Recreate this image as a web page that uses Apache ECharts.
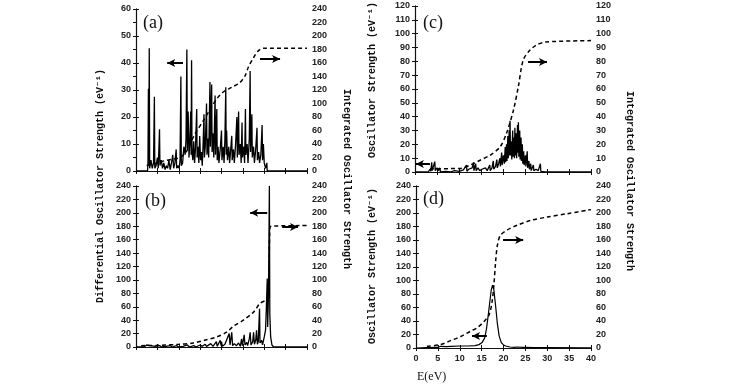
<!DOCTYPE html>
<html><head><meta charset="utf-8">
<script src="https://cdn.jsdelivr.net/npm/echarts@6/dist/echarts.min.js"></script>
<style>html,body{margin:0;padding:0;background:#fff}#c{width:733px;height:388px}</style>
</head><body><div id="c"></div>
<script>
// ---------- data (E in eV, value) ----------
const specA = [[0,0],[2.7,0],[2.8,3],[2.9,30.5],[3.0,2],[3.1,45.5],[3.2,1],[3.5,4],[3.8,1],[4.1,3],[4.3,27.5],[4.4,1],[4.7,2],[5.0,5],[5.2,1],[5.5,15.5],[5.6,2],[5.9,4],[6.2,1],[6.5,3],[6.8,0.5],[7.1,2],[7.4,1],[7.7,4],[8.0,0.5],[8.3,3],[8.6,6],[8.8,1],[9.1,3],[9.4,8],[9.5,1],[9.8,2],[10.1,1],[10.3,4],[10.5,35],[10.6,2],[10.9,3],[11.2,9],[11.5,6],[11.7,12],[11.9,45],[12.0,8],[12.2,22],[12.4,5],[12.6,11],[12.8,22],[12.9,6],[13.0,41],[13.1,7],[13.3,4],[13.5,11],[13.7,3],[13.9,8],[14.2,23],[14.3,5],[14.5,9],[14.7,3],[14.9,13],[15.1,4],[15.3,7],[15.5,2],[15.7,10],[15.9,21],[16.0,5],[16.2,9],[16.5,25],[16.6,6],[16.8,12],[17.0,5],[17.3,33],[17.4,9],[17.7,32],[17.8,7],[18.0,14],[18.2,5],[18.5,28],[18.6,6],[18.9,23],[19.0,4],[19.2,9],[19.4,3],[19.7,8],[20.0,15],[20.1,4],[20.4,9],[20.6,3],[20.8,12],[21.0,31],[21.1,6],[21.2,15],[21.4,4],[21.7,9],[21.9,3],[22.1,7],[22.4,13],[22.5,4],[22.8,8],[23.0,3],[23.3,10],[23.6,20],[23.7,5],[24.0,22],[24.1,6],[24.4,10],[24.6,3],[24.8,18],[24.9,5],[25.2,9],[25.4,3],[25.6,23],[25.7,6],[26.0,10],[26.2,3],[26.5,12],[26.7,37],[26.8,7],[27.1,21],[27.2,5],[27.5,9],[27.7,3],[28.0,8],[28.3,16],[28.4,4],[28.7,7],[28.9,3],[29.2,6],[29.5,17],[29.6,4],[29.8,10],[30.0,3],[30.3,1],[30.6,3],[30.7,0],[40,0]];
const intA = [[2.5,8],[5,12],[7.2,16],[9,18],[10.3,20],[11.7,28],[12.8,42],[13.8,55],[15.8,75],[17.7,95],[18.9,107],[20.4,117],[22.4,124],[24.3,131],[25.5,141],[26.3,154],[27.5,168],[28.6,178],[29.8,182],[40,182]];

const specB = [[0,0],[1.5,0],[1.8,2],[2.0,0.5],[2.5,3],[2.8,0.5],[3.3,2],[3.6,0],[4.5,1],[5.5,2],[6.0,0],[7.0,1],[8.0,2],[8.5,0],[9.5,2],[10.0,0],[11.0,1],[12.0,3],[12.5,0],[13.5,2],[14.0,0],[15.0,3],[15.5,1],[16.2,4],[16.5,1],[17.5,5],[18.0,1],[18.8,8],[19.0,1],[19.7,10],[19.9,2],[20.0,8],[20.2,1],[20.8,4],[21.2,2],[21.8,20],[22.0,3],[22.4,22],[22.6,2],[23.0,5],[23.5,2],[24.0,6],[24.4,1],[24.7,12],[24.9,2],[25.3,18],[25.5,3],[25.9,7],[26.1,2],[26.5,12],[26.7,22],[26.9,3],[27.3,8],[27.5,22],[27.7,4],[28.0,10],[28.2,25],[28.4,4],[28.6,8],[28.9,57],[29.0,6],[29.4,10],[29.6,3],[30.0,15],[30.3,25],[30.5,60],[30.7,102],[30.8,30],[31.0,80],[31.2,240],[31.3,50],[31.5,15],[31.8,3],[32.2,0],[40,0]];
const intB = [[1.2,2],[5,2.5],[10,4],[13.4,6],[16,10],[18.9,15],[21.2,22],[22.8,31],[25.1,40],[27.5,52],[29.0,65],[30.6,71],[31.0,80],[31.3,176],[31.6,180],[40,181]];

const specC = [[0,0],[3.0,0],[3.4,2],[3.6,0.5],[3.8,7],[3.9,1],[4.2,2],[4.5,7.5],[4.6,1],[5.0,3],[5.3,1],[5.6,3],[5.8,0],[7,0.5],[8,0],[9,1],[10,0.5],[11,1.5],[11.7,5],[11.8,0.5],[12.2,2],[12.6,1],[13.0,3],[13.3,7],[13.4,1],[13.8,6],[13.9,1],[14.3,3],[14.7,1],[15.2,2],[15.6,1],[16.0,3],[16.4,1],[16.8,2],[17.0,5],[17.1,1],[17.5,3],[17.8,8],[17.9,2],[18.3,4],[18.6,9],[18.7,3],[19.0,6],[19.3,10],[19.4,4],[19.7,14],[19.8,5],[20.1,12],[20.3,6],[20.5,18],[20.6,7],[20.8,20],[20.9,8],[21.1,26],[21.2,10],[21.4,30],[21.5,12],[21.6,37],[21.7,12],[21.9,22],[22.0,9],[22.2,30],[22.3,11],[22.5,25],[22.6,10],[22.7,32],[22.8,12],[23.0,28],[23.1,10],[23.3,34],[23.4,14],[23.5,36],[23.6,11],[23.8,30],[23.9,9],[24.1,25],[24.2,8],[24.4,20],[24.5,6],[24.7,15],[24.8,5],[25.1,12],[25.2,4],[25.5,15],[25.6,3],[25.9,8],[26.0,2],[26.3,6],[26.4,1],[26.9,5],[27.0,1],[27.5,2],[28.0,1],[28.5,6],[28.6,0.5],[29.0,1],[29.5,0],[40,0]];
const intC = [[3.4,2.4],[10.2,2.5],[12.5,5],[14.8,8.5],[17.0,12],[19.3,18],[20.8,28],[22.4,45],[23.5,62],[24.6,81],[26.1,88],[27.7,92],[29.8,94],[40,95]];

const specD = [[0,0],[2.5,0.5],[2.9,3],[3.2,0.5],[4.5,1],[4.8,3],[5.1,1],[5.6,2.5],[6.0,1.5],[7.0,2],[8,2.5],[10,3],[12,3],[13.5,3.5],[14.4,5],[15.1,8],[15.7,15],[16.1,28],[16.5,48],[16.9,70],[17.2,86],[17.5,93],[17.8,86],[18.2,62],[18.6,36],[19.0,18],[19.5,8],[20.0,4.5],[20.5,3],[21.5,1.5],[22.5,1],[23.0,1.5],[23.2,3],[23.4,1],[24.5,1],[24.8,3],[25.1,1],[27,0.5],[30,0.5],[40,0.3]];
const intD = [[2.5,2.5],[5.6,5],[7.9,11],[10.2,17],[12.5,25],[14.0,30],[15.5,39],[16.7,49],[17.4,69],[17.8,93],[18.2,128],[18.6,152],[19.3,167],[20.9,175],[23.2,182],[26.2,189],[30.0,194],[34.6,199],[40,205]];

// arrows (data coordinates on the left axis of each panel): [x1,y1,x2,y2]
const arrowsA = [[11,40,7.3,40],[29,41.5,33.7,41.5]];
const arrowsB = [[30.7,200,26.7,200],[34.2,179,37.9,179]];
const arrowsC = [[3.4,5.8,0.2,5.8],[25.7,79.5,30.0,79.5]];
const arrowsD = [[16.2,17.8,12.8,17.8],[19.9,160,24.5,160]];

// axis ranges
const xRange = {min:0, max:40, step:5};
const yLeft  = [[0,60,10],[0,240,20],[0,120,10],[0,240,20]];
const yRight = [[0,240,20],[0,240,20],[0,120,10],[0,240,20]];
const panelLabels = ['(a)','(b)','(c)','(d)'];

const chart = echarts.init(document.getElementById('c'));
const grids = [
  {left:136, top:9,   width:171, height:162},
  {left:136, top:186, width:171, height:161},
  {left:415, top:6,   width:176, height:166},
  {left:416, top:186, width:175, height:162}
];
const AX = {lineStyle:{color:'#111', width:1.1}};
const lblFont = {fontFamily:'Liberation Sans, Arial, sans-serif', fontWeight:'bold', fontSize:9, color:'#222'};
const xAxes = [], yAxes = [], series = [];
grids.forEach((g,i)=>{
  xAxes.push({type:'value', gridIndex:i, position:'bottom', min:xRange.min, max:xRange.max, interval:xRange.step,
    axisLine:AX, axisTick:{inside:true, length:3, lineStyle:{color:'#111'}}, splitLine:{show:false},
    axisLabel:Object.assign({show:i===3, margin:6}, lblFont)});
  xAxes.push({type:'value', gridIndex:i, position:'top', min:xRange.min, max:xRange.max, interval:xRange.step,
    axisLine:AX, axisTick:{inside:true, length:3, lineStyle:{color:'#111'}}, splitLine:{show:false}, axisLabel:{show:false}});
  yAxes.push({type:'value', gridIndex:i, position:'left', min:yLeft[i][0], max:yLeft[i][1], interval:yLeft[i][2],
    axisLine:AX, axisTick:{inside:true, length:3, lineStyle:{color:'#111'}}, splitLine:{show:false},
    axisLabel:Object.assign({margin:5}, lblFont)});
  yAxes.push({type:'value', gridIndex:i, position:'right', min:yRight[i][0], max:yRight[i][1], interval:yRight[i][2],
    axisLine:AX, axisTick:{inside:true, length:3, lineStyle:{color:'#111'}}, splitLine:{show:false},
    axisLabel:Object.assign({margin:5}, lblFont)});
});
const specs = [specA, specB, specC, specD];
const ints = [intA, intB, intC, intD];
const arrows = [arrowsA, arrowsB, arrowsC, arrowsD];
specs.forEach((s,i)=>{
  series.push({type:'line', xAxisIndex:2*i, yAxisIndex:2*i, data:s, showSymbol:false, symbol:'none',
    lineStyle:{color:'#000', width:i===3?1.2:1.3}, animation:false, silent:true,
    markLine:{silent:true, symbol:['none','arrow'], symbolSize:[6,8], animation:false,
      lineStyle:{color:'#000', width:2, type:'solid'}, label:{show:false},
      data:arrows[i].map(a=>[{coord:[a[0],a[1]]},{coord:[a[2],a[3]]}])}});
  series.push({type:'line', xAxisIndex:2*i, yAxisIndex:2*i+1, data:ints[i], showSymbol:false, symbol:'none',
    smooth:0.3, lineStyle:{color:'#000', width:1.5, type:[4,3]}, animation:false, silent:true});
});
const serifTitle = {fontFamily:'Liberation Mono, DejaVu Sans Mono, monospace', fontSize:10, fill:'#111', fontWeight:'bold'};
const graphic = [];
const labelPos = [[143,14],[145,192],[423,14],[423,190]];
panelLabels.forEach((t,i)=>graphic.push({type:'text', left:labelPos[i][0], top:labelPos[i][1],
  style:{text:t, font:'18px "Liberation Serif", serif', fill:'#111'}}));
function vtext(txt, cx, cy, rot){
  graphic.push({type:'text', x:cx, y:cy, rotation:rot,
    style:Object.assign({text:txt, align:'center', verticalAlign:'middle'}, serifTitle)});
}
vtext('Differential Oscillator Strength (eV\u207B\u00B9)', 100, 186, Math.PI/2);
vtext('Integrated Oscillator Strength', 347, 179, -Math.PI/2);
vtext('Integrated Oscillator Strength', 630, 181, -Math.PI/2);
vtext('Oscillator Strength (eV\u207B\u00B9)', 372, 80, Math.PI/2);
vtext('Oscillator Strength (eV\u207B\u00B9)', 372, 266, Math.PI/2);
graphic.push({type:'text', left:417, top:371, style:{text:'E(eV)', font:'12px "Liberation Serif", serif', fill:'#111'}});

chart.setOption({animation:false, backgroundColor:'#fff', grid:grids, xAxis:xAxes, yAxis:yAxes, series:series, graphic:graphic});
</script></body></html>
